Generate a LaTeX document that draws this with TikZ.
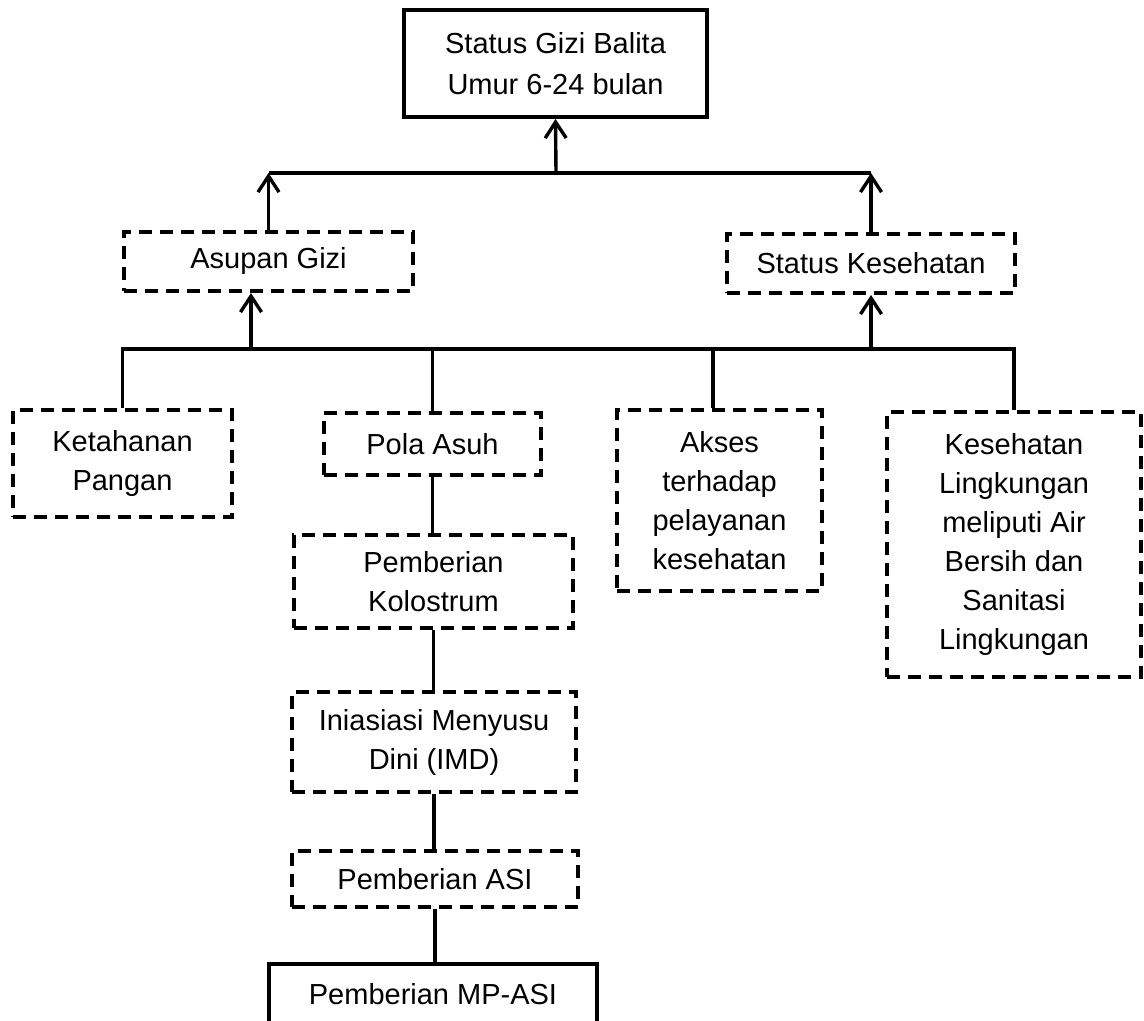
\documentclass[tikz,border=0pt]{standalone}
\usepackage{fontspec}
\setmainfont{Liberation Sans}
\usepackage{tikz}
\usetikzlibrary{arrows.meta, calc}
\newcommand{\boxfont}{\fontsize{14.5}{19.5}\selectfont}
\tikzset{
    gizibox/.style={draw, rectangle, line width=2pt, align=center, font=\boxfont, inner sep=0pt},
    solidbox/.style={gizibox},
    dashbox/.style={gizibox, dash pattern=on 6.5pt off 4pt},
    uparrow/.style={-{Straight Barb[length=8pt, width=10.5pt, line width=1.7pt]}, line width=1.7pt},
    link/.style={line width=1.7pt},
}
\begin{document}
\begin{tikzpicture}[x=0.5pt, y=-0.5pt]
    \useasboundingbox (0,0) rectangle (1144,1021);
    % Top
    \node[solidbox, minimum width=151.5pt, minimum height=53.5pt, font=\fontsize{14.5}{20.5}\selectfont] (status) at (555.5, 63.5) {Status Gizi Balita\\Umur 6-24 bulan};

    % Second level
    \node[dashbox, minimum width=144.5pt, minimum height=29.5pt] (asupan) at (268.5, 261.5) {Asupan Gizi};
    \node[dashbox, minimum width=144pt, minimum height=29.5pt] (statkes) at (871, 263.5) {Status Kesehatan};

    % Third level
    \node[dashbox, minimum width=109.5pt, minimum height=53.5pt] (ketahanan) at (122.5, 463.5) {Ketahanan\\Pangan};
    \node[dashbox, minimum width=108.5pt, minimum height=31pt] (pola) at (432.5, 444) {Pola Asuh};
    \node[dashbox, minimum width=102.5pt, minimum height=90.5pt] (akses) at (719.5, 500.5) {Akses\\terhadap\\pelayanan\\kesehatan};
    \node[dashbox, minimum width=127pt, minimum height=132.5pt] (kesling) at (1014, 544.5) {Kesehatan\\Lingkungan\\meliputi Air\\Bersih dan\\Sanitasi\\Lingkungan};

    % Pola asuh chain
    \node[dashbox, minimum width=139.5pt, minimum height=46.5pt] (kolostrum) at (433.5, 581.5) {Pemberian\\Kolostrum};
    \node[dashbox, minimum width=142pt, minimum height=50pt] (imd) at (434, 742) {Iniasiasi Menyusu\\Dini (IMD)};
    \node[dashbox, minimum width=143pt, minimum height=28pt] (asi) at (435, 879) {Pemberian ASI};
    \node[solidbox, minimum width=164pt, minimum height=30pt] (mpasi) at (433, 994) {Pemberian MP-ASI};

    % Junctions
    \coordinate (topbar) at (556, 173);
    \coordinate (lowbar) at (251, 349);
    \coordinate (aksesdrop) at (713, 349);

    % Upper bar
    \draw[uparrow] (topbar) -- (status.south);
    \draw[link] (asupan.north |- topbar) -- (statkes.north |- topbar);
    \draw[uparrow] (asupan.north) -- (asupan.north |- topbar);
    \draw[uparrow] (statkes.north) -- (statkes.north |- topbar);

    % Lower bar
    \draw[link] (ketahanan.north) |- (kesling.north |- lowbar) -- (kesling.north);
    \draw[uparrow] (lowbar) -- (lowbar |- asupan.south);
    \draw[uparrow] (statkes.south |- lowbar) -- (statkes.south);
    \draw[link] (pola.north |- lowbar) -- (pola.north);
    \draw[link] (aksesdrop) -- (aksesdrop |- akses.north);

    % Chain
    \draw[link] (pola.south) -- (pola.south |- kolostrum.north);
    \draw[link] (kolostrum.south) -- (kolostrum.south |- imd.north);
    \draw[link] (imd.south) -- (imd.south |- asi.north);
    \draw[link] (asi.south) -- (asi.south |- mpasi.north);
\end{tikzpicture}
\end{document}
